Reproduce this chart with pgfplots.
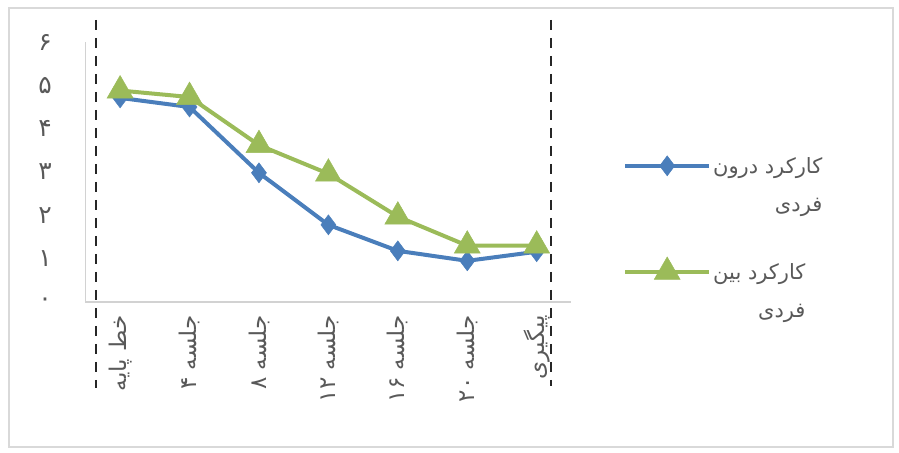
\documentclass[border=0pt]{standalone}
\usepackage{pgfplots}
\pgfplotsset{compat=1.18}
\usepackage{fontspec}
\setmainfont{DejaVu Sans}
\newfontfamily\arabicfont[Script=Arabic]{DejaVu Sans}
\TeXXeTstate=1
\definecolor{sblue}{HTML}{4A7EBB}
\definecolor{sgreen}{HTML}{9BBB59}
\definecolor{txt}{HTML}{595959}
\begin{document}
\begin{tikzpicture}
\path (0,0) rectangle (899bp,453bp);
\draw[gray!30, line width=1.5bp] (9bp,6bp) rectangle (893bp,445bp);
\begin{axis}[
  at={(85.4bp,151bp)}, anchor=south west,
  scale only axis, width=486bp, height=260bp,
  xmin=-0.5, xmax=6.5, ymin=0, ymax=6,
  axis lines=left,
  axis line style={-, draw=gray!35, line width=1.5bp},
  xtick={0,...,6},
  xticklabels={{\beginR خط پایه\endR}, {\beginR جلسه \beginL۴\endL\endR}, {\beginR جلسه \beginL۸\endL\endR}, {\beginR جلسه \beginL۱۲\endL\endR}, {\beginR جلسه \beginL۱۶\endL\endR}, {\beginR جلسه \beginL۲۰\endL\endR}, {\beginR پیگیری\endR}},
  ytick={0,...,6},
  yticklabels={۰,۱,۲,۳,۴,۵,۶},
  major tick length=0pt,
  clip=false,
  yticklabel style={font=\arabicfont\fontsize{25bp}{28bp}\selectfont, text=txt, xshift=-30bp},
  xticklabel style={font=\arabicfont\fontsize{23bp}{26bp}\selectfont, text=txt, rotate=90, anchor=east, xshift=-10bp},
  legend style={at={(1.10,0.575)}, anchor=north west, draw=none, fill=none,
    font=\arabicfont\fontsize{21bp}{24bp}\selectfont, text=txt, row sep=80bp,
    cells={anchor=west}},
  legend image code/.code={\draw[mark repeat=2, mark phase=2, #1] plot coordinates {(0bp,0bp) (42bp,0bp) (84bp,0bp)};},
]
\draw[black!85, line width=2bp, dash pattern=on 10bp off 8bp] (axis cs:-0.347,6.51) -- (axis cs:-0.347,-1.98);
\draw[black!85, line width=2bp, dash pattern=on 10bp off 8bp] (axis cs:6.2,6.51) -- (axis cs:6.2,-1.93);
\addplot[color=sblue, line width=4bp, mark=diamond*, mark size=10bp, mark options={fill=sblue, line width=0.5bp}]
  coordinates {(0,4.71) (1,4.50) (2,2.98) (3,1.78) (4,1.18) (5,0.95) (6,1.16)};
\addlegendentry{\begin{tabular}[t]{@{}r@{}}\beginR کارکرد درون\endR\\[14bp]\beginR فردی\endR\end{tabular}}
\addplot[color=sgreen, line width=4bp, mark=triangle*, mark size=15bp, mark options={fill=sgreen, line width=0.5bp}]
  coordinates {(0,4.88) (1,4.73) (2,3.62) (3,2.96) (4,1.97) (5,1.30) (6,1.30)};
\addlegendentry{\begin{tabular}[t]{@{}r@{}}\beginR کارکرد بین\endR\\[14bp]\beginR فردی\endR\end{tabular}}
\end{axis}
\end{tikzpicture}
\end{document}
